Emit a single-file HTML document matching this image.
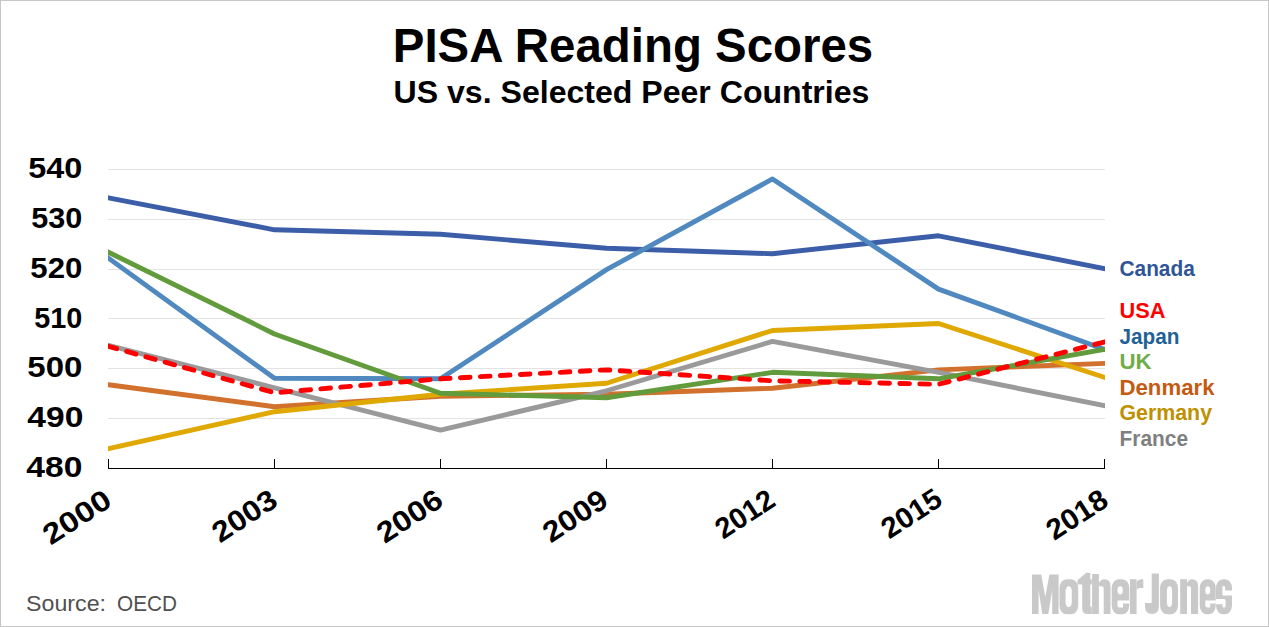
<!DOCTYPE html>
<html><head><meta charset="utf-8"><style>
html,body{margin:0;padding:0;background:#fff;}
svg{display:block;}
text{font-family:"Liberation Sans",sans-serif;}
.yl{font-weight:bold;font-size:29px;fill:#000;}
.xl{font-weight:bold;font-size:29px;fill:#000;}
.lg{font-weight:bold;font-size:21.2px;}
</style></head><body>
<svg width="1269" height="627" viewBox="0 0 1269 627">
<rect x="0" y="0" width="1269" height="627" fill="#fff"/>
<rect x="0.5" y="0.5" width="1268" height="626" fill="none" stroke="#c6c6c6" stroke-width="1"/>
<text x="633" y="62" text-anchor="middle" font-weight="bold" font-size="48.5" textLength="480.5" lengthAdjust="spacingAndGlyphs">PISA Reading Scores</text>
<text x="631.5" y="103.3" text-anchor="middle" font-weight="bold" font-size="31.8" textLength="475.8" lengthAdjust="spacingAndGlyphs">US vs. Selected Peer Countries</text>
<rect x="108" y="169" width="997" height="1" fill="#e3e3e3"/><rect x="108" y="219" width="997" height="1" fill="#e3e3e3"/><rect x="108" y="269" width="997" height="1" fill="#e3e3e3"/><rect x="108" y="318" width="997" height="1" fill="#e3e3e3"/><rect x="108" y="368" width="997" height="1" fill="#e3e3e3"/><rect x="108" y="418" width="997" height="1" fill="#e3e3e3"/>
<defs><clipPath id="pa"><rect x="108" y="100" width="997" height="400"/></clipPath></defs><g clip-path="url(#pa)"><polyline points="108.50,197.90 274.50,229.80 440.50,234.28 606.50,248.24 772.50,253.72 938.50,235.78 1104.50,268.67" fill="none" stroke="#3c5ea9" stroke-width="4.9" stroke-linejoin="round" stroke-linecap="square"/><polyline points="108.50,384.78 274.50,406.71 440.50,396.24 606.50,394.25 772.50,388.27 938.50,369.83 1104.50,363.35" fill="none" stroke="#d2712d" stroke-width="4.9" stroke-linejoin="round" stroke-linecap="square"/><polyline points="108.50,345.41 274.50,387.77 440.50,430.13 606.50,390.76 772.50,341.42 938.50,372.32 1104.50,405.71" fill="none" stroke="#9a9a9a" stroke-width="4.9" stroke-linejoin="round" stroke-linecap="square"/><polyline points="108.50,448.56 274.50,411.69 440.50,394.25 606.50,383.28 772.50,330.46 938.50,323.48 1104.50,377.30" fill="none" stroke="#e0a802" stroke-width="4.9" stroke-linejoin="round" stroke-linecap="square"/><polyline points="108.50,258.20 274.50,378.30 440.50,378.80 606.50,269.66 772.50,178.97 938.50,289.10 1104.50,349.40" fill="none" stroke="#5089c0" stroke-width="4.9" stroke-linejoin="round" stroke-linecap="square"/><polyline points="108.50,252.22 274.50,333.95 440.50,393.25 606.50,397.74 772.50,372.32 938.50,378.80 1104.50,349.40" fill="none" stroke="#629b3c" stroke-width="4.9" stroke-linejoin="round" stroke-linecap="square"/><polyline points="108.50,346.41 274.50,392.75 440.50,378.80 606.50,369.83 772.50,380.79 938.50,384.28 1104.50,341.92" fill="none" stroke="#ff0000" stroke-width="4.9" stroke-dasharray="9.7 10.3" stroke-dashoffset="1.15" stroke-linecap="round" stroke-linejoin="round"/></g>
<rect x="108" y="468" width="997" height="1" fill="#000"/>
<rect x="108" y="459" width="1" height="10" fill="#000"/><rect x="274" y="459" width="1" height="10" fill="#000"/><rect x="440" y="459" width="1" height="10" fill="#000"/><rect x="606" y="459" width="1" height="10" fill="#000"/><rect x="772" y="459" width="1" height="10" fill="#000"/><rect x="938" y="459" width="1" height="10" fill="#000"/><rect x="1104" y="459" width="1" height="10" fill="#000"/>
<text x="82.3" y="177.9" text-anchor="end" class="yl" textLength="54" lengthAdjust="spacingAndGlyphs">540</text><text x="82.3" y="227.6" text-anchor="end" class="yl" textLength="51" lengthAdjust="spacingAndGlyphs">530</text><text x="82.3" y="277.6" text-anchor="end" class="yl" textLength="52" lengthAdjust="spacingAndGlyphs">520</text><text x="82.3" y="327.9" text-anchor="end" class="yl" textLength="48" lengthAdjust="spacingAndGlyphs">510</text><text x="82.3" y="376.8" text-anchor="end" class="yl" textLength="55" lengthAdjust="spacingAndGlyphs">500</text><text x="83.3" y="426.8" text-anchor="end" class="yl" textLength="56" lengthAdjust="spacingAndGlyphs">490</text><text x="82.3" y="476.9" text-anchor="end" class="yl" textLength="56" lengthAdjust="spacingAndGlyphs">480</text>
<text transform="translate(113.7,504.8) rotate(-33)" text-anchor="end" class="xl" textLength="75" lengthAdjust="spacingAndGlyphs">2000</text><text transform="translate(279.5,504.8) rotate(-33)" text-anchor="end" class="xl" textLength="70.9" lengthAdjust="spacingAndGlyphs">2003</text><text transform="translate(445.2,504.8) rotate(-33)" text-anchor="end" class="xl" textLength="72.2" lengthAdjust="spacingAndGlyphs">2006</text><text transform="translate(610.1,504.8) rotate(-33)" text-anchor="end" class="xl" textLength="70.9" lengthAdjust="spacingAndGlyphs">2009</text><text transform="translate(777.3,504.8) rotate(-33)" text-anchor="end" class="xl" textLength="64.4" lengthAdjust="spacingAndGlyphs">2012</text><text transform="translate(944.3,503.9) rotate(-33)" text-anchor="end" class="xl" textLength="65.6" lengthAdjust="spacingAndGlyphs">2015</text><text transform="translate(1110.2,504.8) rotate(-33)" text-anchor="end" class="xl" textLength="66.6" lengthAdjust="spacingAndGlyphs">2018</text>
<text x="1119.5" y="275.8" fill="#2f5597" class="lg" textLength="75.3" lengthAdjust="spacingAndGlyphs">Canada</text><text x="1119.5" y="317.8" fill="#ff0000" class="lg" textLength="46" lengthAdjust="spacingAndGlyphs">USA</text><text x="1119.5" y="343.8" fill="#1f6296" class="lg" textLength="60" lengthAdjust="spacingAndGlyphs">Japan</text><text x="1119.5" y="368.65" fill="#70ad47" class="lg" textLength="32.2" lengthAdjust="spacingAndGlyphs">UK</text><text x="1119.5" y="394.6" fill="#c55a11" class="lg" textLength="95" lengthAdjust="spacingAndGlyphs">Denmark</text><text x="1119.5" y="419.7" fill="#bf9000" class="lg" textLength="92.5" lengthAdjust="spacingAndGlyphs">Germany</text><text x="1119.5" y="445.6" fill="#7f7f7f" class="lg" textLength="68.5" lengthAdjust="spacingAndGlyphs">France</text>
<text x="26" y="610.85" font-size="22.9" fill="#505050" textLength="80" lengthAdjust="spacingAndGlyphs">Source:</text>
<text x="117" y="610.85" font-size="22.9" fill="#505050" textLength="60" lengthAdjust="spacingAndGlyphs">OECD</text>
<g fill="#c9c9c9"><path d="M1032,614.0V574.6H1041.2L1045.3,597L1049.4,574.6H1058.6V614.0H1052.2V590L1048.3,614.0H1042.3L1038.6,590V614.0Z"/><path d="M1066.50,579.20H1071.20A7.00,9.00 0 0 1 1078.20,588.20V605.30A7.00,9.00 0 0 1 1071.20,614.30H1066.50A7.00,9.00 0 0 1 1059.50,605.30V588.20A7.00,9.00 0 0 1 1066.50,579.20Z"/><path d="M1077.4,580.2L1086.4,572.8H1090.3V579.2H1091.8V584.4H1090.3V606.8H1091.8V614.0H1087.5Q1082.2,614.0 1082.2,608V584.4H1077.4Z"/><path d="M1092.10,574.00H1098.90V614.00H1092.10Z"/><path d="M1098.9,583Q1100.5,579.2 1104.5,579.2Q1110.5,579.2 1110.5,586V614.0H1103.7V588Q1103.7,586.3 1101.8,586.3H1098.9Z"/><path d="M1118.70,579.20H1122.30A7.00,9.00 0 0 1 1129.30,588.20V605.30A7.00,9.00 0 0 1 1122.30,614.30H1118.70A7.00,9.00 0 0 1 1111.70,605.30V588.20A7.00,9.00 0 0 1 1118.70,579.20Z"/><path d="M1130.00,579.20H1136.60V614.00H1130.00Z"/><path d="M1136.6,582Q1138,579.2 1141,579.2H1143.3V588H1140Q1137.5,588 1136.6,590Z"/><path d="M1151.7,573.6H1158.9V606Q1158.9,614.0 1152,614.0Q1145,614.0 1145,606V603H1151.7Z"/><path d="M1167.10,579.20H1171.00A7.00,9.00 0 0 1 1178.00,588.20V605.30A7.00,9.00 0 0 1 1171.00,614.30H1167.10A7.00,9.00 0 0 1 1160.10,605.30V588.20A7.00,9.00 0 0 1 1167.10,579.20Z"/><path d="M1180.20,579.20H1187.00V614.00H1180.20Z"/><path d="M1187,583Q1188.5,579.2 1192,579.2Q1198.1,579.2 1198.1,586V614.0H1191V588Q1191,586.3 1189.2,586.3H1187Z"/><path d="M1206.70,579.20H1208.70A7.00,9.00 0 0 1 1215.70,588.20V605.30A7.00,9.00 0 0 1 1208.70,614.30H1206.70A7.00,9.00 0 0 1 1199.70,605.30V588.20A7.00,9.00 0 0 1 1206.70,579.20Z"/><path d="M1223.00,579.20H1225.00A7.00,9.00 0 0 1 1232.00,588.20V605.30A7.00,9.00 0 0 1 1225.00,614.30H1223.00A7.00,9.00 0 0 1 1216.00,605.30V588.20A7.00,9.00 0 0 1 1223.00,579.20Z"/></g><g fill="#fff"><path d="M1068.70,586.30H1068.70A3.10,5.00 0 0 1 1071.80,591.30V602.30A3.10,5.00 0 0 1 1068.70,607.30H1068.70A3.10,5.00 0 0 1 1065.60,602.30V591.30A3.10,5.00 0 0 1 1068.70,586.30Z"/><path d="M1120.10,586.30H1120.20A2.60,4.00 0 0 1 1122.80,590.30V590.60A2.60,4.00 0 0 1 1120.20,594.60H1120.10A2.60,4.00 0 0 1 1117.50,590.60V590.30A2.60,4.00 0 0 1 1120.10,586.30Z"/><path d="M1117.5,600.6H1129.4V603.6H1123V607.6H1120Q1117.5,607.6 1117.5,605Z"/><path d="M1169.50,586.30H1169.50A2.60,5.00 0 0 1 1172.10,591.30V602.10A2.60,5.00 0 0 1 1169.50,607.10H1169.50A2.60,5.00 0 0 1 1166.90,602.10V591.30A2.60,5.00 0 0 1 1169.50,586.30Z"/><path d="M1207.70,586.30H1207.80A2.40,4.00 0 0 1 1210.20,590.30V590.60A2.40,4.00 0 0 1 1207.80,594.60H1207.70A2.40,4.00 0 0 1 1205.30,590.60V590.30A2.40,4.00 0 0 1 1207.70,586.30Z"/><path d="M1205.3,600.6H1215.8V603.6H1210.2V607.6H1207.5Q1205.3,607.6 1205.3,605Z"/><path d="M1222.4,586.3H1224Q1225.2,586.3 1225.2,588V590.5H1232.1V595.5H1223.5Q1222.4,595.5 1222.4,594Z"/><path d="M1216,599H1224Q1225.6,599 1225.6,600.5V606Q1225.6,607.6 1224,607.6H1223.5Q1222.6,607.6 1222.6,606V604.2H1216Z"/></g>
</svg>
</body></html>
